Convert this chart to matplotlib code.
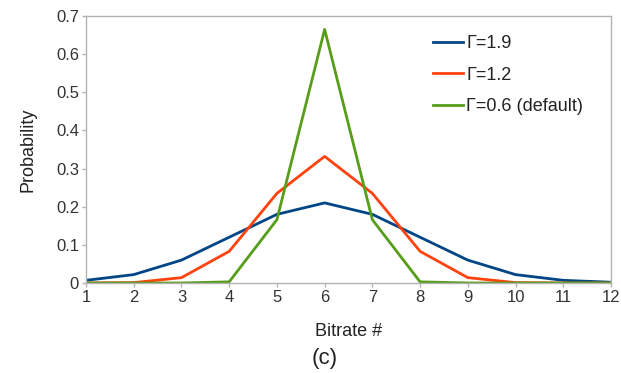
import matplotlib
matplotlib.use("Agg")
import matplotlib.pyplot as plt

plt.rcParams['font.family'] = ['Liberation Sans', 'DejaVu Sans']

bitrates = [1, 2, 3, 4, 5, 6, 7, 8, 9, 10, 11, 12]
gamma_19 = [0.007, 0.022, 0.060, 0.120, 0.180, 0.210, 0.180, 0.120, 0.060, 0.022, 0.007, 0.002]
gamma_12 = [0.000, 0.001, 0.014, 0.083, 0.235, 0.332, 0.235, 0.083, 0.014, 0.001, 0.000, 0.000]
gamma_06 = [0.000, 0.000, 0.000, 0.003, 0.166, 0.665, 0.166, 0.003, 0.000, 0.000, 0.000, 0.000]
series_labels = ['Γ=1.9', 'Γ=1.2', 'Γ=0.6 (default)']
series_colors = ['#004586', '#ff420e', '#579d1c']
yticks = [0, 0.1, 0.2, 0.3, 0.4, 0.5, 0.6, 0.7]
ytick_labels = ['0', '0.1', '0.2', '0.3', '0.4', '0.5', '0.6', '0.7']

fig = plt.figure(figsize=(6.21, 3.73), dpi=100)
ax = fig.add_axes([0.1385, 0.2413, 0.8454, 0.7157])

for vals, lab, col in zip([gamma_19, gamma_12, gamma_06], series_labels, series_colors):
    ax.plot(bitrates, vals, color=col, lw=2.0, label=lab, solid_joinstyle='round')

ax.set_xlim(1, 12)
ax.set_ylim(0, 0.7)
ax.set_xticks(bitrates)
ax.set_yticks(yticks)
ax.set_yticklabels(ytick_labels)

grid_col = '#b3b3b3'
for s in ax.spines.values():
    s.set_color(grid_col)
    s.set_linewidth(1.0)
ax.tick_params(axis='both', colors=grid_col, labelcolor='#333333', labelsize=12,
               length=3, width=1.0, pad=2)

ax.set_ylabel('Probability', fontsize=13, color='#222222', labelpad=14)
ax.set_xlabel('Bitrate #', fontsize=13, color='#222222', labelpad=13)
fig.text(0.523, 0.04, '(c)', fontsize=16, color='#222222', ha='center', va='center')

leg = ax.legend(loc='upper left', bbox_to_anchor=(0.661, 0.928), frameon=False,
                borderpad=0, borderaxespad=0,
                fontsize=13, handlelength=1.66, handletextpad=0.17, labelspacing=0.8)
for t in leg.get_texts():
    t.set_color('#222222')

fig.savefig('out.png', dpi=100)
